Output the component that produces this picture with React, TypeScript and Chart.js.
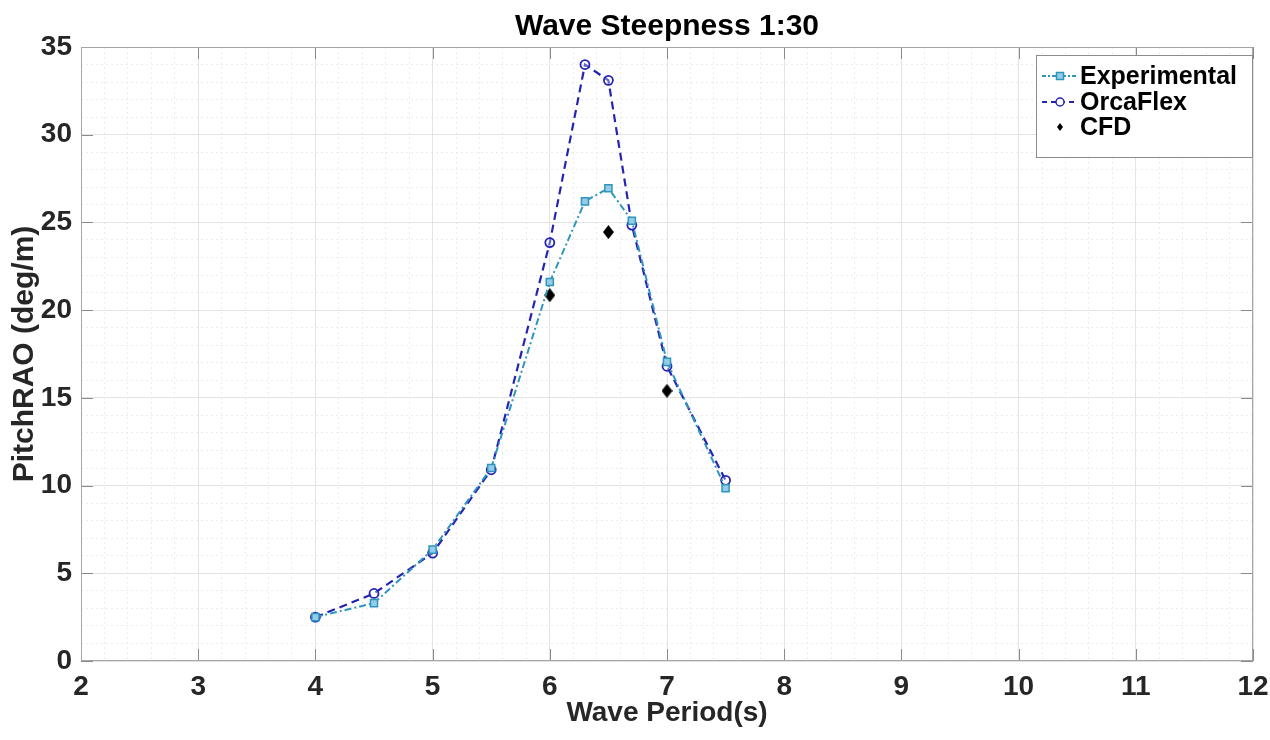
import React, { useEffect, useRef } from 'react';
import { Chart, registerables } from 'chart.js';

Chart.register(...registerables);

// Chart data
const periods = [4, 4.5, 5, 5.5, 6, 6.3, 6.5, 6.7, 7, 7.5];
const experimental = [2.5, 3.3, 6.35, 11.0, 21.6, 26.2, 26.95, 25.1, 17.05, 9.85];
const orcaflex = [2.5, 3.85, 6.15, 10.9, 23.85, 34.0, 33.1, 24.85, 16.8, 10.3];
const cfdPeriods = [6, 6.5, 7];
const cfd = [20.85, 24.45, 15.4];
const xTicks = [2, 3, 4, 5, 6, 7, 8, 9, 10, 11, 12];
const yTicks = [0, 5, 10, 15, 20, 25, 30, 35];

const TITLE = 'Wave Steepness 1:30';
const FONT = "'Liberation Sans', Arial, sans-serif";
const EXP_COLOR = '#2f95bd';
const EXP_FILL = 'rgba(150,205,230,1)';
const ORCA_COLOR = '#2424b4';
const EXP_DASH = [7, 3, 2, 3];
const ORCA_DASH = [8, 5];

// small filled diamond used as the CFD marker (slightly taller than wide)
function makeDiamond(w: number, h: number, color: string) {
  const c = document.createElement('canvas');
  c.width = w;
  c.height = h;
  const g = c.getContext('2d')!;
  g.fillStyle = color;
  g.beginPath();
  g.moveTo(w / 2, 0);
  g.lineTo(w, h / 2);
  g.lineTo(w / 2, h);
  g.lineTo(0, h / 2);
  g.closePath();
  g.fill();
  return c;
}

const isWhole = (v: number, step: number) => Math.abs(v / step - Math.round(v / step)) < 1e-6;

// box, inward ticks, title over the axes and the in-plot legend (MATLAB look)
const framePlugin = {
  id: 'frame',
  beforeDatasetsDraw(chart: any) {
    const { ctx, chartArea: a, scales } = chart;
    ctx.save();
    ctx.strokeStyle = '#8a8a8a';
    ctx.lineWidth = 1;
    ctx.beginPath();
    xTicks.forEach((v) => {
      const px = Math.round(scales.x.getPixelForValue(v)) + 0.5;
      ctx.moveTo(px, a.bottom);
      ctx.lineTo(px, a.bottom - 12);
      ctx.moveTo(px, a.top);
      ctx.lineTo(px, a.top + 12);
    });
    yTicks.forEach((v) => {
      const py = Math.round(scales.y.getPixelForValue(v)) + 0.5;
      ctx.moveTo(a.left, py);
      ctx.lineTo(a.left + 12, py);
      ctx.moveTo(a.right, py);
      ctx.lineTo(a.right - 12, py);
    });
    ctx.stroke();
    ctx.strokeStyle = '#a6a6a6';
    ctx.strokeRect(a.left + 0.5, a.top + 0.5, a.right - a.left - 1, a.bottom - a.top - 1);
    ctx.restore();
  },
  afterDraw(chart: any) {
    const { ctx, chartArea: a } = chart;
    ctx.save();

    // title, centred over the plot box
    ctx.fillStyle = '#000000';
    ctx.font = `bold 30px ${FONT}`;
    ctx.textAlign = 'center';
    ctx.textBaseline = 'middle';
    ctx.fillText(TITLE, (a.left + a.right) / 2, 27);

    const bw = 216;
    const bh = 102;
    const bx = a.right - bw - 1;
    const by = a.top + 8;
    ctx.fillStyle = '#ffffff';
    ctx.fillRect(bx, by, bw, bh);
    ctx.strokeStyle = '#8c8c8c';
    ctx.lineWidth = 1;
    ctx.strokeRect(bx + 0.5, by + 0.5, bw, bh);

    const rows = [
      { label: 'Experimental', y: by + 21 },
      { label: 'OrcaFlex', y: by + 47 },
      { label: 'CFD', y: by + 72 },
    ];
    const x0 = bx + 6;
    const x1 = bx + 42;
    const xm = (x0 + x1) / 2;

    // Experimental sample
    ctx.strokeStyle = EXP_COLOR;
    ctx.lineWidth = 2;
    ctx.setLineDash([4, 2, 2, 2]);
    ctx.beginPath();
    ctx.moveTo(x0, rows[0].y);
    ctx.lineTo(x1, rows[0].y);
    ctx.stroke();
    ctx.setLineDash([]);
    ctx.lineWidth = 1.5;
    ctx.fillStyle = EXP_FILL;
    ctx.fillRect(xm - 3.5, rows[0].y - 3.5, 7, 7);
    ctx.strokeRect(xm - 3.5, rows[0].y - 3.5, 7, 7);

    // OrcaFlex sample
    ctx.strokeStyle = ORCA_COLOR;
    ctx.lineWidth = 2;
    ctx.setLineDash([5, 4]);
    ctx.beginPath();
    ctx.moveTo(x0, rows[1].y);
    ctx.lineTo(x1, rows[1].y);
    ctx.stroke();
    ctx.setLineDash([]);
    ctx.lineWidth = 1.5;
    ctx.fillStyle = '#ffffff';
    ctx.beginPath();
    ctx.arc(xm, rows[1].y, 4, 0, Math.PI * 2);
    ctx.fill();
    ctx.stroke();

    // CFD sample
    ctx.drawImage(makeDiamond(6, 8, '#000000'), xm - 3, rows[2].y - 4);

    ctx.fillStyle = '#000000';
    ctx.font = `bold 25px ${FONT}`;
    ctx.textBaseline = 'middle';
    ctx.textAlign = 'left';
    rows.forEach((r) => ctx.fillText(r.label, bx + 44, r.y + 1));
    ctx.restore();
  },
};

const App: React.FC = () => {
  const canvasRef = useRef<HTMLCanvasElement>(null);

  useEffect(() => {
    if (!canvasRef.current) return;
    const tickFont = { family: FONT, size: 28, weight: 'bold' as const };

    const chart = new Chart(canvasRef.current, {
      type: 'line',
      data: {
        datasets: [
          {
            label: 'Experimental',
            data: periods.map((p, i) => ({ x: p, y: experimental[i] })),
            borderColor: EXP_COLOR,
            backgroundColor: EXP_FILL,
            borderWidth: 2,
            borderDash: EXP_DASH,
            pointStyle: 'rect',
            pointRadius: 5,
            pointBorderWidth: 1.5,
            pointBorderColor: EXP_COLOR,
            pointBackgroundColor: EXP_FILL,
            tension: 0,
          },
          {
            label: 'OrcaFlex',
            data: periods.map((p, i) => ({ x: p, y: orcaflex[i] })),
            borderColor: ORCA_COLOR,
            backgroundColor: 'transparent',
            borderWidth: 2.2,
            borderDash: ORCA_DASH,
            pointStyle: 'circle',
            pointRadius: 4.5,
            pointBorderWidth: 1.8,
            pointBorderColor: ORCA_COLOR,
            pointBackgroundColor: 'rgba(255,255,255,0.3)',
            tension: 0,
          },
          {
            label: 'CFD',
            data: cfdPeriods.map((p, i) => ({ x: p, y: cfd[i] })),
            showLine: false,
            pointStyle: makeDiamond(11, 14, '#000000'),
            pointRadius: 7,
            borderColor: '#000000',
            backgroundColor: '#000000',
          },
        ],
      },
      options: {
        animation: false,
        responsive: false,
        layout: { padding: { left: 0, right: 17, top: 47, bottom: 0 } },
        plugins: {
          legend: { display: false },
          tooltip: { enabled: false },
          title: { display: false },
        },
        scales: {
          xm: {
            type: 'linear',
            position: 'bottom',
            min: xTicks[0],
            max: xTicks[xTicks.length - 1],
            ticks: { display: false, stepSize: 0.2, maxTicksLimit: 100 },
            grid: {
              z: -2,
              drawTicks: false,
              color: (c: any) => (c.tick && isWhole(c.tick.value, 1) ? 'transparent' : '#ececec'),
            },
            border: { display: false, dash: [2, 3] },
            afterFit: (s: any) => {
              s.height = 0;
              s.paddingLeft = 0;
              s.paddingRight = 0;
            },
          },
          ym: {
            type: 'linear',
            position: 'left',
            min: yTicks[0],
            max: yTicks[yTicks.length - 1],
            ticks: { display: false, stepSize: 1, maxTicksLimit: 100 },
            grid: {
              z: -2,
              drawTicks: false,
              color: (c: any) => (c.tick && isWhole(c.tick.value, 5) ? 'transparent' : '#ececec'),
            },
            border: { display: false, dash: [2, 3] },
            afterFit: (s: any) => {
              s.width = 0;
              s.paddingTop = 0;
              s.paddingBottom = 0;
            },
          },
          x: {
            type: 'linear',
            position: 'bottom',
            min: xTicks[0],
            max: xTicks[xTicks.length - 1],
            ticks: { stepSize: 1, color: '#262626', font: tickFont, padding: 9, autoSkip: false },
            grid: { color: '#e3e3e3', drawTicks: false },
            border: { display: false },
            title: {
              display: true,
              text: 'Wave Period(s)',
              color: '#262626',
              font: tickFont,
              padding: { top: 0, bottom: 10 },
            },
            afterFit: (s: any) => {
              s.height = 79;
              s.paddingLeft = 0;
              s.paddingRight = 0;
            },
          },
          y: {
            type: 'linear',
            position: 'left',
            min: yTicks[0],
            max: yTicks[yTicks.length - 1],
            ticks: { stepSize: 5, color: '#262626', font: tickFont, padding: 9 },
            grid: { color: '#e3e3e3', drawTicks: false },
            border: { display: false },
            title: {
              display: true,
              text: 'PitchRAO (deg/m)',
              color: '#262626',
              font: { family: FONT, size: 30, weight: 'bold' as const },
              padding: { top: 7, bottom: 0 },
            },
            afterFit: (s: any) => {
              s.width = 81;
              s.paddingTop = 0;
              s.paddingBottom = 0;
            },
          },
        },
      },
      plugins: [framePlugin],
    });

    return () => {
      chart.destroy();
    };
  }, []);

  return (
    <div style={{ position: 'absolute', top: 0, left: 0, width: 1270, height: 740, background: '#ffffff' }}>
      <canvas ref={canvasRef} width={1270} height={740} style={{ display: 'block' }} />
    </div>
  );
};

export default App;
